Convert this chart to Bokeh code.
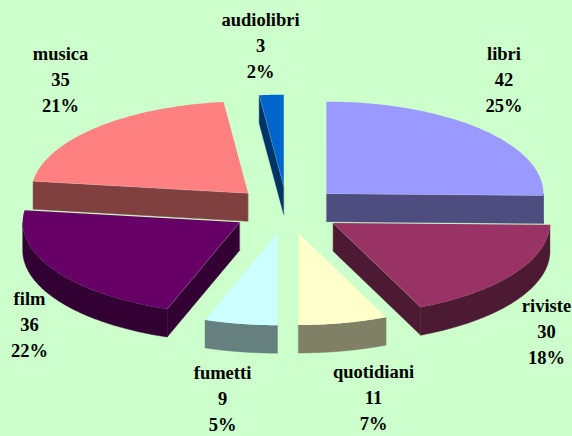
import numpy as np
from bokeh.plotting import figure
from bokeh.models import Range1d
from bokeh.core.properties import value
from bokeh.embed import file_html
from bokeh.resources import INLINE

categories = ["libri", "riviste", "quotidiani", "fumetti", "film", "musica", "audiolibri"]
values = [42, 30, 11, 9, 36, 35, 3]
percents = ["25%", "18%", "7%", "5%", "22%", "21%", "2%"]

top_colors = ["#9999FF", "#993366", "#FFFFCC", "#CCFFFF", "#660066", "#FF8080", "#0066CC"]
side_colors = ["#4D4D80", "#4D1A33", "#808066", "#668080", "#330033", "#804040", "#003366"]

# Label anchor of each slice (centre x, centre y of the first text line)
label_x = [503.5, 546, 373, 222, 29, 60, 260]
label_y = [53, 305, 371, 372, 298, 53, 19]
LINE_STEP = 26

CX, CY, RX, RY, DEPTH, EXPLODE = 286.4, 209.6, 217, 92, 28, 0.255

BG = "#CCFFCC"
p = figure(width=572, height=436, output_backend="svg", toolbar_location=None,
           x_range=Range1d(0, 572), y_range=Range1d(436, 0),
           background_fill_color=BG, border_fill_color=BG,
           min_border=0, outline_line_color=None)
p.axis.visible = False
p.grid.visible = False


def rim(ax, ay, a0, a1, n=80):
    t = np.linspace(a0, a1, n)
    return ax + RX * np.sin(t), ay - RY * np.cos(t)


total = sum(values)
bounds = np.concatenate([[0], np.cumsum(values)]) / total * 2 * np.pi
mids = (bounds[:-1] + bounds[1:]) / 2
order = np.argsort(-np.cos(mids))

for i in order:
    a0, a1, m = bounds[i], bounds[i + 1], mids[i]
    ax = CX + EXPLODE * RX * np.sin(m)
    ay = CY - EXPLODE * RY * np.cos(m)
    xs, ys = [], []
    edge_xs, edge_ys = [], []

    # radial walls facing the viewer
    for ang, visible in ((a0, np.sin(a0) < -1e-6), (a1, np.sin(a1) > 1e-6)):
        if visible:
            ex, ey = rim(ax, ay, ang, ang, 1)
            xs.append([ax, ex[0], ex[0], ax])
            ys.append([ay, ey[0], ey[0] + DEPTH, ay + DEPTH])
            edge_xs.append([ex[0], ax, ax])
            edge_ys.append([ey[0], ay, ay + DEPTH])

    # outer wall on the front half of the ellipse
    lo, hi = max(a0, np.pi / 2), min(a1, 3 * np.pi / 2)
    if hi > lo:
        ex, ey = rim(ax, ay, lo, hi)
        xs.append(list(ex) + list(ex[::-1]))
        ys.append(list(ey) + list(ey[::-1] + DEPTH))

    if xs:
        p.patches(xs, ys, fill_color=side_colors[i], line_color=side_colors[i], line_width=0.4)

    ex, ey = rim(ax, ay, a0, a1)
    p.patch([ax] + list(ex), [ay] + list(ey), fill_color=top_colors[i], line_color=None)
    if edge_xs:
        p.multi_line(edge_xs, edge_ys, line_color="#FFFFFF", line_alpha=0.3, line_width=0.6)

for i, name in enumerate(categories):
    lines = [name, str(values[i]), percents[i]]
    p.text([label_x[i]] * 3, [label_y[i] + k * LINE_STEP for k in range(3)], text=lines,
           text_font=value("Liberation Serif"), text_font_style="bold",
           text_font_size="18.5px", text_color="#000000",
           text_align="center", text_baseline="middle")

html = file_html(p, INLINE).replace(
    "<head>", "<head><style>html,body{margin:0;padding:0;background:#CCFFCC;overflow:hidden}</style>", 1)
open("out.html", "w").write(html)
